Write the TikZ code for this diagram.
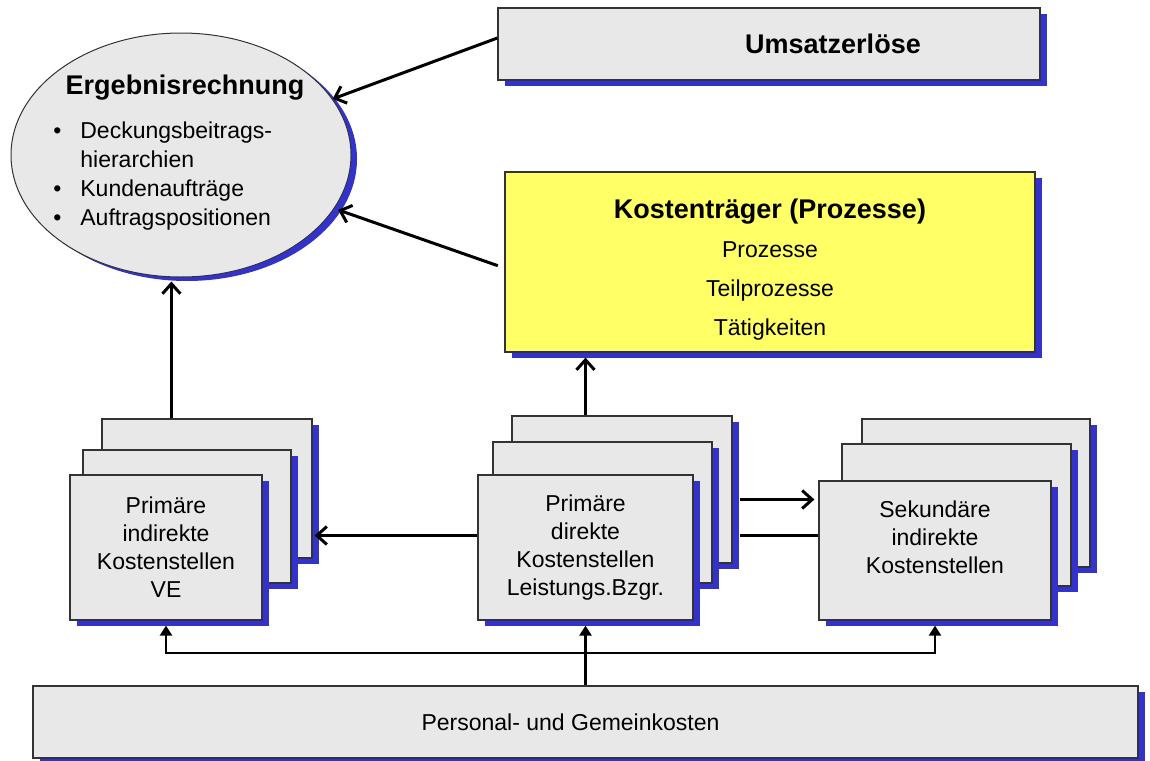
\documentclass[tikz,border=0pt]{standalone}
\usepackage{fontspec}
\setmainfont{Liberation Sans}
\usetikzlibrary{arrows.meta,positioning,shadows,shapes.geometric}
\definecolor{ink}{HTML}{333333}
\definecolor{boxgray}{HTML}{E8E8E8}
\definecolor{ktyellow}{HTML}{FFFF66}
\definecolor{shadowblue}{HTML}{3333CC}

\begin{document}
\begin{tikzpicture}[x=0.5pt,y=-0.5pt,
  blueshadow/.style={drop shadow={shadow xshift=3.5pt,shadow yshift=-3pt,fill=shadowblue,opacity=1}},
  card/.style={draw=ink,line width=0.6pt,fill=boxgray,inner sep=0pt,blueshadow},
  txt/.style={align=center,font=\fontsize{11.5}{14}\selectfont},
  headline/.style={font=\fontsize{13.5}{16}\selectfont\bfseries},
  arr/.style={draw=black,line width=1.5pt,-{Straight Barb[length=5pt,width=9pt]}},
  feed/.style={draw=black,line width=1.2pt},
  tri/.tip={Triangle[length=5pt,width=6pt]}]
  \useasboundingbox[fill=white] (0,0) rectangle (1150,760);

  % top: result, revenue, cost objects
  \node[ellipse,draw=ink,line width=0.5pt,fill=boxgray,inner sep=0pt,
        minimum width=170pt,minimum height=122pt,
        drop shadow={shadow xshift=3pt,shadow yshift=-2pt,fill=shadowblue,opacity=1}] (erg) at (181,155) {};
  \node[headline] (ergTitle) at (185,88) {Ergebnisrechnung};
  \node[anchor=west,inner sep=0pt,font=\fontsize{11.5}{14.5}\selectfont] (ergList) at (53,176)
  {\begin{tabular}{@{}p{13.5pt}@{}l@{}}
     \textbullet & Deckungsbeitrags-\\
                 & hierarchien\\
     \textbullet & Kundenaufträge\\
     \textbullet & Auftragspositionen
   \end{tabular}};

  \node[card,headline,minimum width=271pt,minimum height=36pt] (us) at (769,44)
  {\hspace*{64pt}Umsatzerlöse};

  \node[card,fill=ktyellow,align=center,font=\fontsize{11.5}{19.5}\selectfont,
        minimum width=265pt,minimum height=90pt] (kt) at (770,262)
  {{\fontsize{13.5}{19.5}\selectfont\bfseries\rule{0pt}{17pt}Kostenträger (Prozesse)}\\
   Prozesse\\Teilprozesse\\Tätigkeiten};

  % cost centre stacks
  \node[card,minimum width=105pt,minimum height=69.5pt] (veBack) at (207,488.5) {};
  \node[card,minimum width=104pt,minimum height=66.5pt] (veMid) at (187,516.5) {};
  \node[card,txt,minimum width=96pt,minimum height=72.5pt] (ve) at (166,547.5)
  {Primäre\\indirekte\\Kostenstellen\\VE};

  \node[card,minimum width=110pt,minimum height=73.5pt] (mdBack) at (622,489.5) {};
  \node[card,minimum width=109.5pt,minimum height=70.5pt] (mdMid) at (602.5,512.5) {};
  \node[card,txt,minimum width=107.5pt,minimum height=72.5pt] (md) at (585.5,547.5)
  {Primäre\\direkte\\Kostenstellen\\Leistungs.Bzgr.};

  \node[card,minimum width=114pt,minimum height=74pt] (skBack) at (976,493) {};
  \node[card,minimum width=114.5pt,minimum height=71pt] (skMid) at (956.5,515) {};
  \node[card,minimum width=116pt,minimum height=69.5pt] (sk) at (935,550.5) {};
  \node[txt,inner sep=0pt] (skLbl) at ([yshift=6.75pt]sk.center)
  {Sekundäre\\indirekte\\Kostenstellen};

  \node[card,txt,minimum width=552.5pt,minimum height=36pt] (pk) at (585.5,722)
  {\hspace*{-15pt}Personal- und Gemeinkosten};

  % connectors
  \draw[arr] ([yshift=3pt]us.west) -- (erg);
  \draw[arr,shorten <=3.5pt,shorten >=2pt] ([yshift=-3pt]kt.west) -- (erg);
  \coordinate (veUp) at ([xshift=35pt]veBack.north west);
  \draw[arr,shorten >=2pt] (veUp) -- (veUp |- erg.south);
  \draw[arr,shorten >=2.5pt] (md.south |- mdBack.north) -- (md.south |- kt.south);
  \draw[arr,shorten <=3.5pt,shorten >=2pt] ([yshift=-5pt]mdBack.east) -- ([yshift=-5pt]mdBack.east -| sk.west);
  \draw[arr,shorten >=1pt] ([yshift=6pt]md.west) -- ([yshift=6pt]md.west -| veBack.east);
  \draw[feed,line width=1.5pt,shorten <=3.5pt] ([yshift=6pt]md.west -| mdBack.east) -- ([yshift=6pt]md.west -| sk.west);

  \coordinate (bus) at (0,653);
  \draw[feed,tri-tri,shorten <=2.5pt,shorten >=2.5pt]
    (ve.south) -- (ve.south |- bus) -- (sk.south |- bus) -- (sk.south);
  \draw[feed,-tri,shorten >=2.5pt] (pk.north -| md.south) -- (md.south);
\end{tikzpicture}
\end{document}
